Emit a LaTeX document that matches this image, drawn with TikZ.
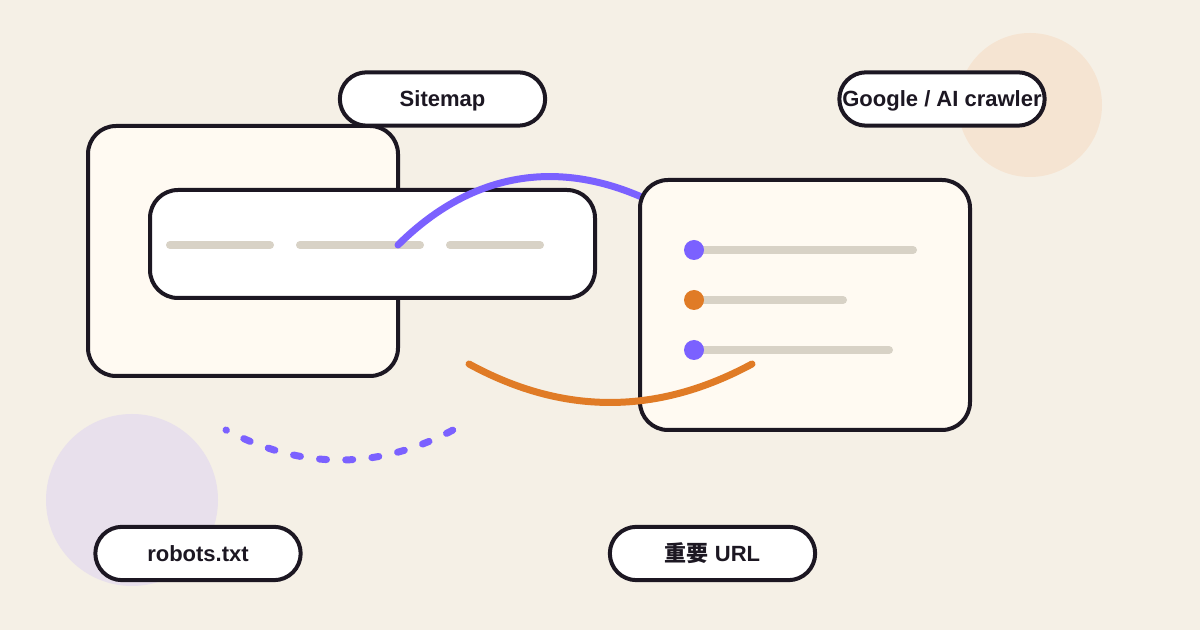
\documentclass[tikz,border=0pt]{standalone}
\usepackage{fontspec}
\setmainfont{Liberation Sans}
\newfontfamily\cjk{Noto Sans CJK SC}
\definecolor{bg}{HTML}{F5F0E6}
\definecolor{ink}{HTML}{1C1722}
\definecolor{purp}{HTML}{7B61FF}
\definecolor{oran}{HTML}{E07B26}
\definecolor{bar}{HTML}{D8D2C6}
\definecolor{cream}{HTML}{FFFAF2}
\definecolor{lav}{HTML}{E8E0EC}
\definecolor{peach}{HTML}{F5E4D2}
\begin{document}
\begin{tikzpicture}[x=0.75pt,y=-0.75pt,
  card/.style={draw=ink,line width=3pt,rounded corners=21pt,fill=cream,inner sep=0pt},
  pill/.style={draw=ink,line width=3pt,rounded corners=20pt,fill=white,minimum width=154pt,minimum height=40pt,inner sep=0pt,text height=11.8pt,text depth=0pt,font=\fontsize{16.5pt}{18pt}\selectfont\bfseries,text=ink},
  barline/.style={draw=bar,line width=6pt,line cap=round},
  arc/.style={line width=5.25pt,line cap=round}]
\fill[bg] (0,0) rectangle (1200,630);
\useasboundingbox (0,0) rectangle (1200,630);
\fill[lav] (132,500) circle (86);
\fill[peach] (1030,105) circle (72);
% left card
\node[card,minimum width=232.5pt,minimum height=187.5pt] (left) at (243,251) {};
% middle card
\node[card,fill=white,minimum width=333.75pt,minimum height=81pt] (mid) at (372.5,244) {};
\draw[barline] (170,245) -- (270,245);
\draw[barline] (300,245) -- (420,245);
\draw[barline] (450,245) -- (540,245);
% purple arc
\coordinate (pa) at (398,245);
\coordinate (pb) at (700,230);
\draw[arc,draw=purp] (pa) .. controls (485.3,158.3) and (591.3,154.7) .. (pb);
% right card
\node[card,minimum width=247.5pt,minimum height=187.5pt] (right) at (805,305) {};
\draw[barline] (694,250) -- (913,250);
\draw[barline] (694,300) -- (843,300);
\draw[barline] (694,350) -- (889,350);
\fill[purp] (694,250) circle (10);
\fill[oran] (694,300) circle (10);
\fill[purp] (694,350) circle (10);
% orange arc
\coordinate (oa) at (469,364);
\coordinate (ob) at (752,364);
\draw[arc,draw=oran] (oa) .. controls (563,415.3) and (657,415.3) .. (ob);
% dashed arc
\coordinate (da) at (226,430);
\coordinate (db) at (453,430);
\draw[arc,draw=purp,dash pattern=on 5.25pt off 14.45pt,dash phase=4.9pt] (da) .. controls (302,470) and (378,470) .. (db);
% pills
\node[pill] (sitemap) at (442.5,99) {Sitemap};
\node[pill] (google) at (942,99) {Google / AI crawler};
\node[pill] (robots) at (198,553.5) {robots.txt};
\node[pill] (url) at (712.5,553.5) {{\cjk\bfseries 重要} URL};
\end{tikzpicture}
\end{document}
